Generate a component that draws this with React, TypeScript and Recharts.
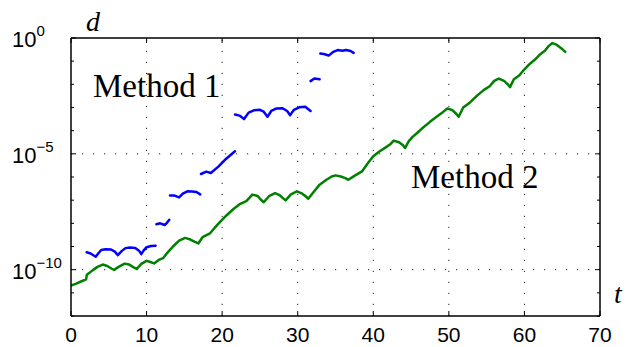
import React from 'react';
import { LineChart, Line, XAxis, YAxis, ReferenceLine, Customized } from 'recharts';

// x ticks (t) and y decades (log10 d)
const xTicks = [0, 10, 20, 30, 40, 50, 60, 70];
const yTickExps = [-12, -11, -10, -9, -8, -7, -6, -5, -4, -3, -2, -1, 0];
const yLabelExps = [0, -5, -10];
const gridX = [10, 20, 30, 40, 50, 60];
const gridYExps = [-5, -10];

// Method 1 (blue): separate segments, pairs of [t, log10(d)]
const method1Seg1 = [
  [2.07, -9.25], [2.6, -9.3], [3.27, -9.44], [3.6, -9.3], [4.0, -9.15], [4.6, -9.12],
  [5.3, -9.13], [5.8, -9.22], [6.2, -9.37], [6.7, -9.2], [7.2, -9.07], [7.8, -9.04],
  [8.5, -9.06], [9.0, -9.18], [9.3, -9.33], [9.6, -9.18], [10.0, -9.03], [10.6, -8.98], [11.2, -8.97],
];
const method1Seg2 = [[11.3, -8.04], [11.8, -8.0], [12.4, -8.07], [12.7, -7.98], [13.0, -7.85]];
const method1Seg3 = [
  [13.1, -6.8], [13.7, -6.8], [14.3, -6.88], [14.8, -6.72], [15.4, -6.62], [16.0, -6.63],
  [16.6, -6.65], [17.1, -6.75],
];
const method1Seg4 = [[17.2, -5.87], [17.9, -5.77], [18.5, -5.83], [19.5, -5.55], [20.5, -5.22], [21.7, -4.89]];
const method1Seg5 = [
  [21.7, -3.3], [22.3, -3.35], [22.9, -3.5], [23.5, -3.22], [24.2, -3.12], [25.0, -3.1],
  [25.5, -3.18], [26.0, -3.4], [26.5, -3.15], [27.2, -3.04], [28.0, -3.03], [28.6, -3.15],
  [29.0, -3.33], [29.5, -3.1], [30.2, -2.99], [31.0, -2.97], [31.7, -3.15],
];
const method1Seg6 = [[31.7, -1.86], [32.2, -1.75], [32.9, -1.78]];
const method1Seg7 = [
  [33.0, -0.67], [33.6, -0.7], [34.1, -0.76], [34.7, -0.6], [35.3, -0.52], [35.9, -0.55],
  [36.4, -0.52], [37.0, -0.56], [37.4, -0.64],
];

// Method 2 (green): pairs of [t, log10(d)]
const method2 = [
  [0, -10.69], [0.7, -10.6], [1.4, -10.5], [2.0, -10.42], [2.1, -10.22], [2.9, -10.02],
  [3.5, -9.88], [4.2, -9.78], [4.8, -9.84], [5.4, -9.96], [5.7, -10.01], [6.3, -9.88],
  [7.1, -9.74], [7.7, -9.78], [8.3, -9.9], [8.7, -9.97], [9.3, -9.75], [10.0, -9.62],
  [10.5, -9.67], [11.0, -9.73], [11.6, -9.58], [12.2, -9.5], [12.8, -9.25], [13.5, -9.0],
  [14.3, -8.75], [15.1, -8.63], [15.8, -8.7], [16.4, -8.8], [16.85, -8.87], [17.4, -8.6],
  [18.4, -8.43], [19.0, -8.2], [19.7, -7.95], [20.6, -7.65], [21.5, -7.38], [22.4, -7.16],
  [23.2, -7.04], [24.0, -6.76], [24.7, -6.82], [25.1, -6.97], [25.5, -7.09], [26.2, -6.83],
  [27.0, -6.7], [27.6, -6.78], [28.0, -6.9], [28.4, -7.01], [29.1, -6.75], [29.9, -6.62],
  [30.6, -6.72], [31.0, -6.82], [31.4, -6.94], [32.1, -6.65], [32.9, -6.33], [33.8, -6.12],
  [34.5, -5.98], [35.0, -5.93], [35.7, -5.98], [36.3, -6.05], [36.7, -6.12], [37.5, -5.95],
  [38.5, -5.76], [39.3, -5.4], [40.0, -5.1], [40.8, -4.9], [41.6, -4.73], [42.2, -4.6],
  [42.7, -4.43], [43.4, -4.5], [43.9, -4.62], [44.2, -4.75], [44.7, -4.45], [45.2, -4.27],
  [45.8, -4.1], [46.4, -3.92], [47.5, -3.62], [48.6, -3.35], [49.2, -3.2], [49.8, -3.04],
  [50.5, -3.12], [51.0, -3.28], [51.3, -3.4], [51.9, -3.0], [52.8, -2.78], [53.7, -2.5],
  [54.6, -2.25], [55.4, -2.08], [56.0, -1.85], [56.6, -1.75], [57.3, -1.85], [57.8, -2.0],
  [58.1, -2.12], [58.6, -1.78], [59.3, -1.62], [60.0, -1.35], [60.7, -1.12], [61.4, -0.93],
  [62.1, -0.7], [62.7, -0.55], [63.2, -0.35], [63.7, -0.22], [64.3, -0.3], [64.9, -0.45],
  [65.4, -0.6],
];

const method1Segments = [method1Seg1, method1Seg2, method1Seg3, method1Seg4, method1Seg5, method1Seg6, method1Seg7];

const toPoints = (seg: number[][]) => seg.map(([t, e]) => ({ t, d: Math.pow(10, e) }));
const method1Data: { t: number; d: number | null }[] = [];
method1Segments.forEach((seg, i) => {
  if (i > 0) {
    const prev = method1Segments[i - 1];
    method1Data.push({ t: (prev[prev.length - 1][0] + seg[0][0]) / 2, d: null });
  }
  method1Data.push(...toPoints(seg));
});
const method2Data = toPoints(method2);

const yTickVals = yTickExps.map((e) => Math.pow(10, e));

const SANS = "'Liberation Sans', Arial, Helvetica, sans-serif";
const SERIF = "'Liberation Serif', 'Times New Roman', serif";
const AXIS_LINE = { stroke: '#000', strokeWidth: 1.5 };

const LeftTick = (props: any) => {
  const { x, y, payload } = props;
  const e = Math.round(Math.log10(payload.value));
  const major = yLabelExps.includes(e);
  return (
    <g>
      <line x1={x} y1={y} x2={x + (major ? 5 : 3)} y2={y} stroke="#000" strokeWidth={1} />
      {major && (
        <text x={12} y={y + 9} fontFamily={SANS} fontSize={22} fill="#000">
          10
          <tspan dy={-11} fontSize={15}>{e === 0 ? '0' : '\u2212' + -e}</tspan>
        </text>
      )}
    </g>
  );
};

const RightTick = (props: any) => {
  const { x, y, payload } = props;
  const e = Math.round(Math.log10(payload.value));
  const major = yLabelExps.includes(e);
  return <line x1={x} y1={y} x2={x - (major ? 5 : 3)} y2={y} stroke="#000" strokeWidth={1} />;
};

const BottomTick = (props: any) => {
  const { x, y, payload } = props;
  return (
    <g>
      <line x1={x} y1={y} x2={x} y2={y - 5} stroke="#000" strokeWidth={1} />
      <text x={x} y={y + 26} textAnchor="middle" fontFamily={SANS} fontSize={21} fill="#000">
        {payload.value}
      </text>
    </g>
  );
};

const TopTick = (props: any) => {
  const { x, y } = props;
  return <line x1={x} y1={y} x2={x} y2={y + 5} stroke="#000" strokeWidth={1} />;
};

const Annotations = () => (
  <g>
    <text x={86} y={31} fontFamily={SERIF} fontStyle="italic" fontSize={28} fill="#000">d</text>
    <text x={614} y={303} fontFamily={SERIF} fontStyle="italic" fontSize={28} fill="#000">t</text>
    <text x={93} y={97} fontFamily={SERIF} fontSize={33} fill="#000">Method 1</text>
    <text x={411} y={188} fontFamily={SERIF} fontSize={33} fill="#000">Method 2</text>
  </g>
);

export default function App() {
  return (
    <div style={{ position: 'absolute', left: 0, top: 0, background: '#fff' }}>
      <LineChart width={629} height={347} margin={{ top: 8, right: 0, bottom: 0, left: 0 }}>
        <XAxis
          xAxisId={0}
          dataKey="t"
          type="number"
          domain={[0, 70]}
          ticks={xTicks}
          interval={0}
          orientation="bottom"
          height={31}
          tickSize={0}
          tickMargin={0}
          tickLine={false}
          axisLine={AXIS_LINE}
          tick={(p: any) => <BottomTick {...p} />}
          allowDataOverflow
        />
        <XAxis
          xAxisId="top"
          dataKey="t"
          type="number"
          domain={[0, 70]}
          ticks={xTicks}
          interval={0}
          orientation="top"
          height={30}
          tickSize={0}
          tickMargin={0}
          tickLine={false}
          axisLine={AXIS_LINE}
          tick={(p: any) => <TopTick {...p} />}
          allowDataOverflow
        />
        <YAxis
          yAxisId={0}
          type="number"
          scale="log"
          domain={[1e-12, 1]}
          allowDataOverflow
          ticks={yTickVals}
          interval={0}
          width={71}
          tickSize={0}
          tickMargin={0}
          tickLine={false}
          axisLine={AXIS_LINE}
          tick={(p: any) => <LeftTick {...p} />}
        />
        <YAxis
          yAxisId="right"
          orientation="right"
          type="number"
          scale="log"
          domain={[1e-12, 1]}
          allowDataOverflow
          ticks={yTickVals}
          interval={0}
          width={29}
          tickSize={0}
          tickMargin={0}
          tickLine={false}
          axisLine={AXIS_LINE}
          tick={(p: any) => <RightTick {...p} />}
        />
        {gridX.map((v) => (
          <ReferenceLine key={'gx' + v} x={v} stroke="#222" strokeWidth={1} strokeDasharray="1.2 9.8" />
        ))}
        {gridYExps.map((e) => (
          <ReferenceLine key={'gy' + e} y={Math.pow(10, e)} stroke="#222" strokeWidth={1} strokeDasharray="1.2 9.8" />
        ))}
        <Line
          data={method1Data}
          dataKey="d"
          type="linear"
          stroke="#0000ff"
          strokeWidth={2.5}
          dot={false}
          connectNulls={false}
          isAnimationActive={false}
          strokeLinejoin="round"
          strokeLinecap="round"
        />
        <Line
          data={method2Data}
          dataKey="d"
          type="linear"
          stroke="#008000"
          strokeWidth={2.5}
          dot={false}
          isAnimationActive={false}
          strokeLinejoin="round"
          strokeLinecap="round"
        />
        <Customized component={Annotations} />
      </LineChart>
    </div>
  );
}
